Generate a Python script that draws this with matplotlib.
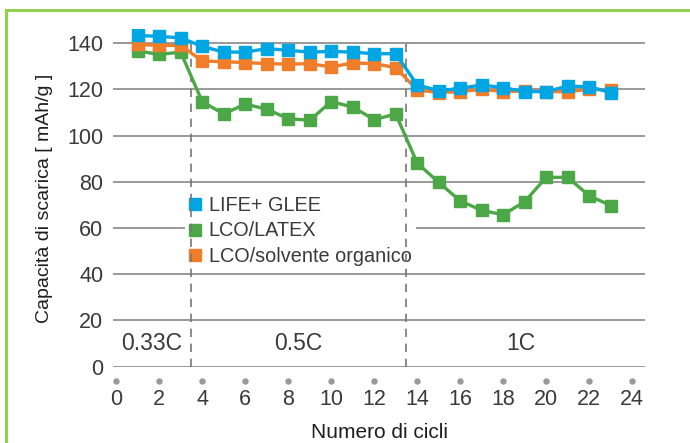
import numpy as np
import matplotlib
matplotlib.use('Agg')
import matplotlib.pyplot as plt
from matplotlib.lines import Line2D

cicli = list(range(1, 24))
life_glee = [143.3, 142.9, 142.3, 138.6, 136.1, 136.1, 137.6, 136.9, 136.1, 136.4, 136.1, 135.4,
             135.4, 121.9, 119.4, 120.4, 121.9, 120.7, 119.0, 119.0, 121.4, 121.1, 118.6]
lco_latex = [136.6, 135.1, 136.1, 114.7, 109.3, 113.6, 111.4, 107.3, 106.6, 114.7, 112.3, 106.9,
             109.3, 88.1, 79.7, 71.7, 67.6, 65.7, 71.4, 81.9, 81.9, 73.9, 69.7]
lco_solv = [139.4, 139.0, 139.0, 132.3, 131.9, 131.6, 131.1, 130.9, 131.1, 129.7, 131.4, 131.1,
            129.4, 119.7, 118.6, 119.0, 120.0, 119.0, 119.3, 119.0, 119.0, 120.0, 119.7]

x_ticks = list(range(0, 25, 2))
y_ticks = list(range(0, 141, 20))
separatori = [3.5, 13.5]
regimi = ['0.33C', '0.5C', '1C']
regimi_x = [1.65, 8.45, 18.8]

plt.rcParams['font.family'] = ['Liberation Sans', 'DejaVu Sans']
testo = '#3a3a3a'

fig = plt.figure(figsize=(6.9, 4.43), dpi=100)
ax = fig.add_axes([0.164, 0.171, 0.771, 0.763])

# bordo verde della figura (solo sinistra e sopra)
fig.add_artist(Line2D([0.0087, 0.0087], [0, 0.977], color='#92d050', lw=2.2, transform=fig.transFigure))
fig.add_artist(Line2D([0.0087, 1.0], [0.977, 0.977], color='#92d050', lw=2.2, transform=fig.transFigure))

for yv in y_ticks:
    ax.axhline(yv, color='#999999', lw=1.4, zorder=0.5)
for xs in separatori:
    ax.plot([xs, xs], [0, 140], color='#777777', lw=1.2, ls=(0, (5, 4)), zorder=1.8)

ax.plot(cicli, lco_latex, color='#4ca847', lw=2.4, marker='s', ms=8.5, label='LCO/LATEX', zorder=3)
ax.plot(cicli, lco_solv, color='#f07d2a', lw=2.4, marker='s', ms=8.5, label='LCO/solvente organico', zorder=3)
ax.plot(cicli, life_glee, color='#00a5e3', lw=2.4, marker='s', ms=8.5, label='LIFE+ GLEE', zorder=4)

for t, xv in zip(regimi, regimi_x):
    ax.text(xv, 10, t, ha='center', va='center', fontsize=16.5, color=testo)

ax.set_xlim(-0.14, 24.6)
ax.set_ylim(-0.3, 146)
ax.set_xticks(x_ticks)
ax.set_yticks(y_ticks)
ax.tick_params(axis='both', length=0, labelsize=15.5, labelcolor=testo)
ax.tick_params(axis='x', pad=16)
ax.tick_params(axis='y', pad=7)
for s in ax.spines.values():
    s.set_visible(False)

# pallini sotto l'asse x
ax.scatter(x_ticks, [-0.042] * len(x_ticks), s=13, color='#999999',
           transform=ax.get_xaxis_transform(), clip_on=False, zorder=3)

ax.set_ylabel('Capacità di scarica [ mAh/g ]', fontsize=14, color='#1e1e1e', labelpad=10)
ax.set_xlabel('Numero di cicli', fontsize=15, color='#1e1e1e', labelpad=9)

h, l = ax.get_legend_handles_labels()
ordine = [2, 0, 1]
handles = [Line2D([], [], ls='none', marker='s', ms=8, color=h[i].get_color()) for i in ordine]
leg = ax.legend(handles, [l[i] for i in ordine], loc='upper left', bbox_to_anchor=(0.135, 0.518),
                fontsize=14.3, frameon=True, fancybox=False, edgecolor='none', facecolor='white',
                framealpha=1, handlelength=0.6, handletextpad=0.4, labelspacing=0.32,
                borderpad=0.2, borderaxespad=0)
for t in leg.get_texts():
    t.set_color(testo)
leg.set_zorder(1.5)

fig.savefig('out.png', dpi=100)
